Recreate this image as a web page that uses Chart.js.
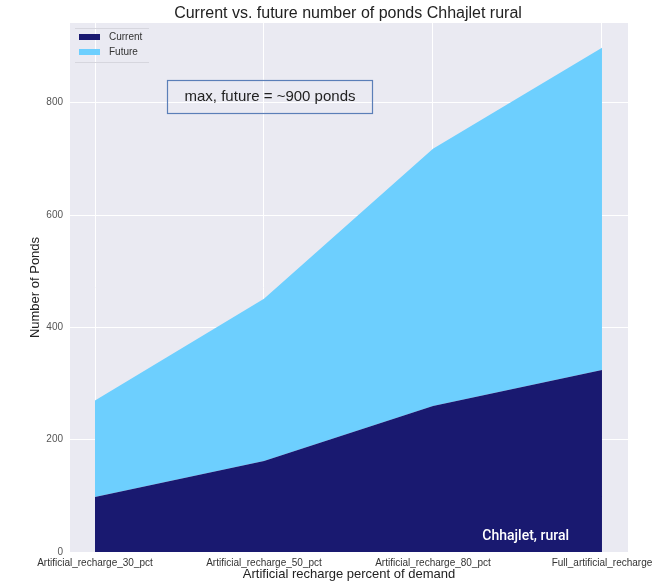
<!DOCTYPE html>
<html lang="en">
<head>
    <meta charset="UTF-8" />
    <title>Ponds Chhajlet rural</title>
    <script src="https://cdn.jsdelivr.net/npm/chart.js"></script>
    <style>
        body {
            margin: 0;
            padding: 0;
            background: #ffffff;
        }
        canvas {
            display: block;
        }
    </style>
</head>
<body>
    <canvas id="pondChart" width="656" height="582"></canvas>

    <script>
        // chart values
        const categories = [
            "Artificial_recharge_30_pct",
            "Artificial_recharge_50_pct",
            "Artificial_recharge_80_pct",
            "Full_artificial_recharge"
        ];
        const currentPonds = [98, 162, 260, 324];
        const futurePonds = [270, 451, 718, 898];
        const yTicks = [0, 200, 400, 600, 800];

        const titleText = "Current vs. future number of ponds Chhajlet rural";
        const noteText = "max, future = ~900 ponds";
        const placeText = "Chhajlet, rural";

        const sans = "'Liberation Sans', Arial, sans-serif";
        const toPoints = (vals) => vals.map((v, i) => ({ x: i, y: v }));

        // background, title, legend and text boxes
        const decorations = {
            id: "decorations",
            beforeDraw(chart) {
                const { ctx, chartArea } = chart;
                ctx.save();
                ctx.fillStyle = "#EAEAF2";
                ctx.fillRect(chartArea.left, chartArea.top,
                    chartArea.right - chartArea.left, chartArea.bottom - chartArea.top);
                ctx.restore();
            },
            afterDraw(chart) {
                const { ctx } = chart;
                ctx.save();

                // title
                ctx.fillStyle = "#222";
                ctx.font = "16px " + sans;
                ctx.textAlign = "center";
                ctx.textBaseline = "middle";
                ctx.fillText(titleText, 348, 14);

                // legend
                ctx.strokeStyle = "#d6d6de";
                ctx.lineWidth = 1;
                ctx.beginPath();
                ctx.moveTo(75, 28.5); ctx.lineTo(149, 28.5);
                ctx.moveTo(75, 62.5); ctx.lineTo(149, 62.5);
                ctx.stroke();
                ctx.fillStyle = "#191970";
                ctx.fillRect(79, 34, 21, 6);
                ctx.fillStyle = "#6DCFFE";
                ctx.fillRect(79, 49, 21, 6);
                ctx.fillStyle = "#333";
                ctx.font = "10px " + sans;
                ctx.textAlign = "left";
                ctx.fillText("Current", 109, 37);
                ctx.fillText("Future", 109, 52);

                // note box
                ctx.strokeStyle = "#5B7FB8";
                ctx.lineWidth = 1.2;
                ctx.strokeRect(167.5, 80.5, 205, 33);
                ctx.fillStyle = "#222";
                ctx.font = "15px " + sans;
                ctx.textAlign = "center";
                ctx.fillText(noteText, 270, 97);

                // place label
                ctx.fillStyle = "#ffffff";
                ctx.font = "500 14px Roboto, sans-serif";
                ctx.textAlign = "right";
                ctx.fillText(placeText, 569, 536);

                ctx.restore();
            }
        };

        const ctx = document.getElementById("pondChart").getContext("2d");
        const pondChart = new Chart(ctx, {
            type: "line",
            data: {
                datasets: [
                    {
                        label: "Current",
                        data: toPoints(currentPonds),
                        backgroundColor: "#191970",
                        borderWidth: 0,
                        pointRadius: 0,
                        fill: "origin",
                    },
                    {
                        label: "Future",
                        data: toPoints(futurePonds),
                        backgroundColor: "#6DCFFE",
                        borderWidth: 0,
                        pointRadius: 0,
                        fill: "-1",
                    },
                ],
            },
            options: {
                responsive: false,
                animation: false,
                layout: {
                    padding: { top: 23, right: 28, left: 0, bottom: 0 },
                },
                plugins: {
                    legend: { display: false },
                    tooltip: { enabled: false },
                },
                scales: {
                    x: {
                        type: "linear",
                        min: -0.148,
                        max: 3.154,
                        afterBuildTicks: (s) => {
                            s.ticks = categories.map((c, i) => ({ value: i }));
                        },
                        afterFit: (s) => {
                            s.height = 30;
                            s.paddingLeft = 0;
                            s.paddingRight = 0;
                        },
                        ticks: {
                            callback: (v) => categories[v],
                            maxRotation: 0,
                            minRotation: 0,
                            autoSkip: false,
                            padding: 5,
                            color: "#333",
                            font: { family: sans, size: 10 },
                        },
                        grid: { color: "#ffffff", lineWidth: 1, drawTicks: false },
                        border: { display: false },
                        title: {
                            display: true,
                            text: "Artificial recharge percent of demand",
                            color: "#222",
                            padding: { top: 0, bottom: 0 },
                            font: { family: sans, size: 13 },
                        },
                    },
                    y: {
                        min: 0,
                        max: 942,
                        afterBuildTicks: (s) => {
                            s.ticks = yTicks.map((v) => ({ value: v }));
                        },
                        afterFit: (s) => {
                            s.width = 70;
                        },
                        ticks: {
                            padding: 7,
                            color: "#555",
                            font: { family: sans, size: 10 },
                        },
                        grid: { color: "#ffffff", lineWidth: 1, drawTicks: false },
                        border: { display: false },
                        title: {
                            display: true,
                            text: "Number of Ponds",
                            color: "#222",
                            padding: { top: 28, bottom: 0 },
                            font: { family: sans, size: 13 },
                        },
                    },
                },
            },
            plugins: [decorations],
        });
    </script>
</body>
</html>
